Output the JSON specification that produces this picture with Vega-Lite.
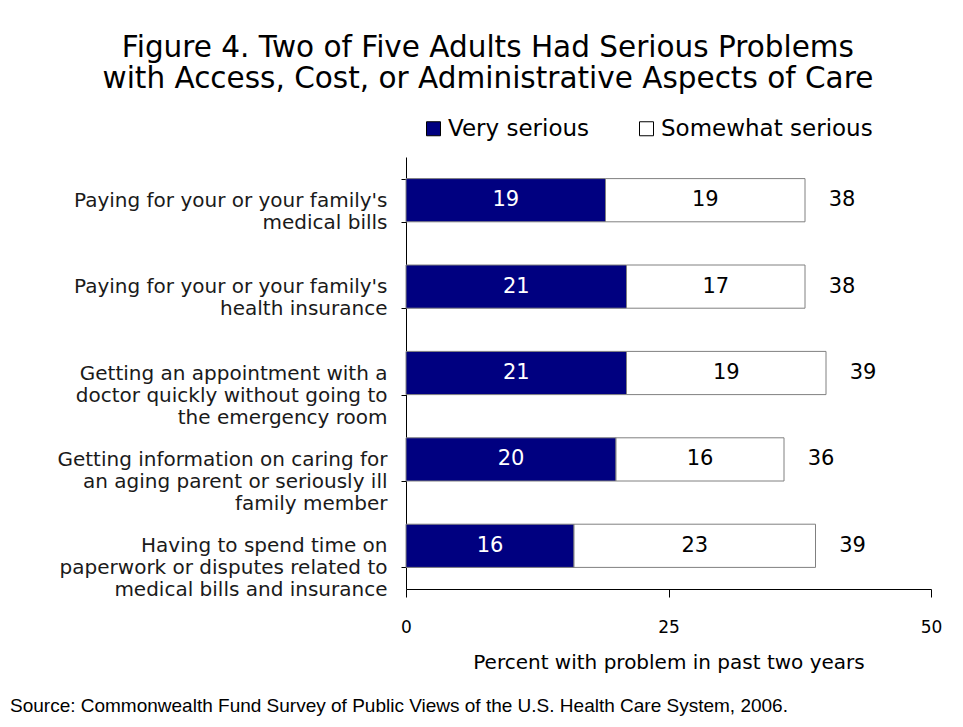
{
  "$schema": "https://vega.github.io/schema/vega-lite/v6.json",
  "background": "white",
  "padding": {"left": 10, "top": 32, "right": 10, "bottom": 10},
  "config": {"view": {"stroke": null}, "font": "DejaVu Sans"},
  "title": {
    "text": "Source: Commonwealth Fund Survey of Public Views of the U.S. Health Care System, 2006.",
    "orient": "bottom", "anchor": "start", "frame": "bounds",
    "font": "Liberation Sans", "fontSize": 19, "fontWeight": "normal", "color": "black", "offset": 25
  },
  "vconcat": [
    {
      "title": {
        "text": ["Figure 4. Two of Five Adults Had Serious Problems", "with Access, Cost, or Administrative Aspects of Care"],
        "anchor": "middle", "frame": "bounds", "font": "DejaVu Sans", "fontSize": 29.5, "fontWeight": "normal",
        "lineHeight": 31, "offset": 53, "dx": 12, "color": "black"
      },
      "width": 525,
      "height": 432,
      "data": {
        "values": [
          {"item": "Paying for your or your family's|medical bills", "severity": "Very serious", "value": 19, "total": 38},
          {"item": "Paying for your or your family's|medical bills", "severity": "Somewhat serious", "value": 19, "total": 38},
          {"item": "Paying for your or your family's|health insurance", "severity": "Very serious", "value": 21, "total": 38},
          {"item": "Paying for your or your family's|health insurance", "severity": "Somewhat serious", "value": 17, "total": 38},
          {"item": "Getting an appointment with a|doctor quickly without going to|the emergency room", "severity": "Very serious", "value": 21, "total": 39},
          {"item": "Getting an appointment with a|doctor quickly without going to|the emergency room", "severity": "Somewhat serious", "value": 19, "total": 39},
          {"item": "Getting information on caring for|an aging parent or seriously ill|family member", "severity": "Very serious", "value": 20, "total": 36},
          {"item": "Getting information on caring for|an aging parent or seriously ill|family member", "severity": "Somewhat serious", "value": 16, "total": 36},
          {"item": "Having to spend time on|paperwork or disputes related to|medical bills and insurance", "severity": "Very serious", "value": 16, "total": 39},
          {"item": "Having to spend time on|paperwork or disputes related to|medical bills and insurance", "severity": "Somewhat serious", "value": 23, "total": 39}
        ]
      },
      "transform": [
        {"stack": "value", "groupby": ["item"], "sort": [{"field": "severity", "order": "descending"}], "as": ["v0", "v1"]},
        {"calculate": "(datum.v0 + datum.v1) / 2", "as": "mid"}
      ],
      "encoding": {
        "y": {
          "field": "item", "type": "nominal", "sort": null,
          "scale": {"paddingInner": 0.5, "paddingOuter": 0.25},
          "axis": {
            "title": null, "labelExpr": "split(datum.label, '|')", "labelFontSize": 20, "labelLineHeight": 22,
            "labelColor": "#1a1a1a", "labelLimit": 500, "labelPadding": 14, "tickSize": 5, "tickBand": "extent",
            "domainColor": "black", "tickColor": "black", "minExtent": 396, "maxExtent": 396, "labelAlign": "right"
          }
        }
      },
      "layer": [
        {
          "mark": {"type": "bar", "stroke": "#808080", "strokeWidth": 1},
          "encoding": {
            "x": {
              "field": "v0", "type": "quantitative",
              "scale": {"domain": [0, 50], "nice": false},
              "axis": {
                "title": "Percent with problem in past two years", "values": [0, 25, 50], "grid": false,
                "labelFontSize": 17, "labelColor": "black", "labelPadding": 22, "tickSize": 8, "labelFlush": false,
                "domainColor": "black", "tickColor": "black", "titleFontSize": 20, "titleFontWeight": "normal",
                "titleColor": "black", "titlePadding": 17
              }
            },
            "x2": {"field": "v1"},
            "color": {
              "field": "severity", "type": "nominal",
              "scale": {"domain": ["Very serious", "Somewhat serious"], "range": ["#000080", "#ffffff"]},
              "legend": {
                "title": null, "orient": "none", "direction": "horizontal", "legendX": 16, "legendY": -40,
                "symbolType": "square", "symbolSize": 196, "symbolStrokeColor": "black", "symbolStrokeWidth": 1,
                "labelFontSize": 23, "labelColor": "black", "labelOffset": 3, "columnPadding": 45, "labelLimit": 400
              }
            }
          }
        },
        {
          "mark": {"type": "text", "fontSize": 21, "align": "center", "baseline": "middle"},
          "encoding": {
            "x": {"field": "mid", "type": "quantitative"},
            "text": {"field": "value", "type": "quantitative"},
            "color": {"condition": {"test": "datum.severity === 'Very serious'", "value": "white"}, "value": "black"}
          }
        },
        {
          "transform": [{"filter": "datum.severity === 'Somewhat serious'"}],
          "mark": {"type": "text", "fontSize": 21, "align": "center", "baseline": "middle", "dx": 37, "color": "black"},
          "encoding": {
            "x": {"field": "v1", "type": "quantitative"},
            "text": {"field": "total", "type": "quantitative"}
          }
        }
      ]
    }
  ]
}
